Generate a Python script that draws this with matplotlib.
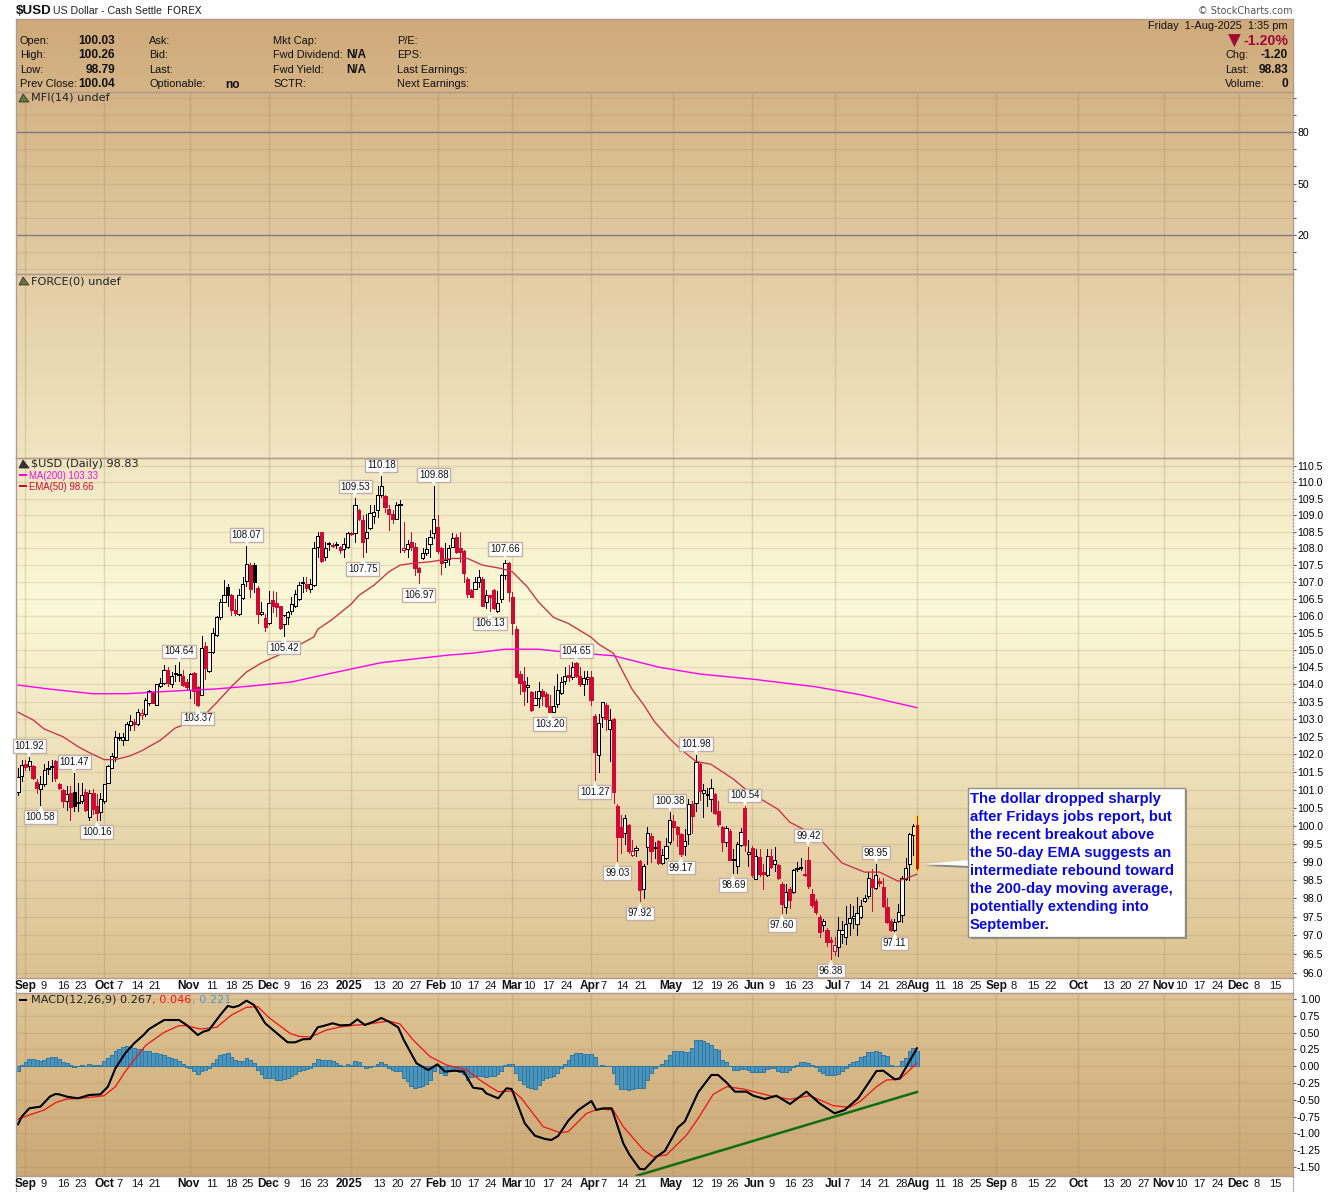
import numpy as np
import pandas as pd
import matplotlib
matplotlib.use('Agg')
import matplotlib.pyplot as plt
from matplotlib.patches import Rectangle, Polygon
from matplotlib.ticker import NullLocator

# Daily candles
opens = [100.95,101.4,101.72,101.68,101.68,101.23,101.02,101.15,101.58,101.63,
    101.8,101.17,101.0,100.7,100.92,100.95,100.62,100.7,100.95,100.25,
    100.92,100.55,100.37,100.7,101.2,101.6,101.92,102.45,102.42,102.42,
    102.83,102.92,102.85,103.12,103.15,103.45,103.78,103.42,103.95,104.05,
    104.42,104.0,104.3,104.28,104.25,104.07,103.85,104.32,103.92,103.7,
    105.1,104.4,104.95,105.45,105.95,106.42,106.85,106.62,106.17,106.05,
    106.52,107.02,107.5,107.5,106.83,106.06,105.92,105.8,106.45,106.38,
    106.28,105.75,105.95,106.15,106.28,106.5,106.96,106.93,106.8,106.9,
    108.05,108.48,107.75,108.13,108.1,108.1,108.05,107.97,108.03,108.45,
    108.45,109.15,108.85,108.3,108.6,108.97,109.17,109.6,109.58,109.2,
    109.05,108.9,109.3,107.95,107.97,108.2,108.03,107.4,107.7,107.87,
    108.13,108.45,108.65,108.0,107.6,107.68,108.05,108.33,108.0,107.93,
    107.1,106.75,106.8,107.0,107.1,106.4,106.6,106.75,106.13,106.5,
    107.2,107.55,106.55,105.6,104.3,104.1,103.93,103.78,103.42,103.6,
    103.8,103.72,103.37,103.22,103.43,103.75,104.1,104.28,104.22,104.62,
    104.23,104.0,104.15,104.22,103.1,101.97,103.07,103.4,102.72,103.0,
    100.55,99.97,99.8,100.03,99.2,99.33,99.02,98.27,99.42,99.72,
    99.37,99.57,98.97,99.1,99.55,100.13,99.97,99.78,99.43,99.78,
    100.6,100.63,101.72,100.92,100.85,100.75,100.87,100.4,99.97,99.55,
    99.85,99.05,98.9,99.47,100.5,99.22,99.38,98.53,99.13,98.72,
    98.65,99.17,98.95,98.92,98.4,97.78,98.25,98.17,98.8,98.83,
    98.68,99.05,98.13,97.92,97.5,97.28,97.15,96.87,96.57,96.7,
    97.05,96.95,97.33,97.48,97.3,97.5,97.92,98.07,98.52,98.28,
    98.48,98.3,97.78,97.38,97.15,97.4,97.55,98.53,98.93,99.75,100.03]
highs = [101.6,101.85,101.85,101.92,101.7,101.3,101.38,101.72,101.8,101.85,
    101.85,101.2,101.02,101.1,101.1,101.47,101.2,101.2,101.03,101.0,
    101.03,100.87,100.92,101.17,101.7,102.05,102.65,102.62,102.6,102.92,
    103.13,103.0,103.3,103.3,103.6,103.85,103.82,104.0,104.18,104.55,
    104.5,104.35,104.55,104.64,104.42,104.15,104.32,104.35,103.95,105.42,
    105.22,104.95,105.65,105.98,106.5,107.05,106.95,106.65,106.5,106.8,
    107.15,108.07,107.55,107.55,106.87,106.4,106.05,106.72,106.72,106.7,
    106.3,106.0,106.15,106.55,106.75,107.0,107.15,107.15,107.1,108.2,
    108.48,108.5,108.2,108.2,108.15,108.2,108.07,108.3,108.48,108.48,
    109.53,109.2,109.0,109.05,109.3,109.3,109.9,110.18,109.62,109.3,
    109.15,109.4,109.45,108.78,108.25,108.48,108.15,107.45,108.0,108.3,
    108.55,109.88,109.0,108.05,108.15,108.1,108.45,108.42,108.5,107.95,
    107.15,106.8,107.15,107.35,107.15,106.75,106.62,106.78,106.72,107.25,
    107.66,107.6,106.7,105.7,104.38,104.5,104.2,103.82,103.8,104.07,
    103.87,103.78,103.7,103.95,104.3,104.2,104.5,104.55,104.65,104.65,
    104.5,104.4,104.38,104.38,103.15,103.15,103.5,103.45,103.3,103.02,
    100.6,100.3,100.3,100.05,99.6,99.45,99.05,98.95,99.95,99.8,
    99.55,99.6,99.35,99.67,100.38,100.3,100.0,99.8,99.9,100.75,
    100.7,101.98,101.75,101.15,101.05,101.3,100.9,100.7,100.0,100.0,
    99.9,99.35,99.55,99.93,100.54,99.6,99.45,99.35,99.35,98.95,
    99.35,99.35,99.4,98.95,98.45,98.4,98.3,98.8,99.0,99.1,
    99.05,99.42,98.25,97.98,97.55,97.45,97.2,96.95,96.95,97.5,
    97.4,97.8,97.85,97.8,98.05,97.95,98.1,98.72,98.8,98.95,
    98.55,98.55,98.0,97.45,97.45,97.85,98.62,99.1,99.8,100.05,100.26]
lows = [100.85,101.25,101.55,101.55,101.3,100.92,100.58,101.1,101.45,101.25,
    101.25,101.03,100.52,100.45,100.17,100.4,100.4,100.62,100.42,100.17,
    100.33,100.16,100.16,100.62,101.18,101.6,101.8,102.42,102.27,102.4,
    102.7,102.7,102.83,103.0,103.1,103.42,103.45,103.42,103.92,104.0,
    103.95,103.92,104.1,104.1,103.95,103.85,103.6,103.45,103.37,103.7,
    104.15,104.35,104.9,105.42,105.9,106.4,106.3,106.03,106.03,106.03,
    106.5,106.87,106.55,106.7,105.8,106.03,105.55,105.75,106.1,106.0,
    105.6,105.42,105.75,106.05,106.25,106.45,106.7,106.72,106.7,106.88,
    107.75,107.6,107.65,107.95,108.05,108.0,107.85,107.75,108.0,108.4,
    108.18,108.85,107.75,107.9,108.58,108.75,108.95,109.55,109.1,108.55,
    108.75,108.88,107.9,107.9,107.75,107.95,107.2,106.97,107.68,107.8,
    107.75,108.3,107.85,107.25,107.45,107.5,108.03,107.85,107.6,107.0,
    106.55,106.55,106.8,106.85,106.28,106.22,106.13,106.2,106.1,106.42,
    107.1,106.43,105.47,104.2,103.72,103.42,103.5,103.24,103.4,103.35,
    103.42,103.35,103.2,103.22,103.35,103.72,104.0,104.1,104.15,104.2,
    103.95,103.7,104.0,103.4,101.27,101.5,102.78,102.7,101.8,100.63,
    99.03,99.25,99.5,99.25,99.17,99.15,97.92,98.0,98.95,99.0,
    99.1,98.93,98.93,99.08,99.5,99.6,99.45,99.17,99.2,99.5,
    99.8,100.4,100.72,100.25,100.55,100.4,100.33,100.0,99.3,99.45,
    99.05,98.69,98.7,99.45,99.3,98.88,98.58,98.53,98.6,98.25,
    98.6,98.83,98.75,98.52,97.6,97.6,97.75,98.15,98.75,98.78,
    98.6,98.28,97.78,97.58,96.95,97.12,96.72,96.38,96.48,96.45,
    96.8,96.78,97.0,97.2,97.0,97.48,97.9,98.0,97.65,98.25,
    98.35,97.78,97.33,97.12,97.11,97.35,97.35,98.5,98.5,99.2,98.79]
closes = [101.35,101.7,101.63,101.8,101.32,101.05,101.15,101.55,101.62,101.67,
    101.32,101.05,100.7,100.87,100.52,100.55,100.66,100.85,100.43,100.9,
    100.47,100.35,100.75,101.17,101.68,101.95,102.5,102.48,102.5,102.85,
    102.95,102.85,103.22,103.18,103.55,103.8,103.47,104.0,104.05,104.42,
    104.03,104.25,104.33,104.31,103.97,103.93,104.3,103.82,103.42,105.05,
    104.47,104.95,105.5,105.95,106.42,106.62,106.62,106.17,106.08,106.62,
    106.93,107.52,106.8,107.0,106.05,106.1,105.67,106.37,106.28,106.27,
    105.65,106.03,106.1,106.35,106.65,106.9,107.0,106.83,106.93,108.0,
    108.38,107.62,108.0,108.16,108.07,108.14,107.95,108.13,108.45,108.43,
    109.32,108.88,108.18,108.48,109.08,109.1,109.6,109.9,109.25,109.05,
    108.88,109.3,109.35,108.0,108.13,108.03,107.4,107.3,107.87,107.97,
    108.33,108.9,107.93,107.55,107.65,108.02,108.3,107.9,107.9,107.27,
    106.65,106.55,107.0,107.15,106.3,106.6,106.55,106.22,106.37,107.2,
    107.57,106.7,105.78,104.2,104.05,103.8,103.98,103.25,103.62,103.8,
    103.67,103.37,103.2,103.38,103.85,104.07,104.23,104.2,104.5,104.25,
    104.0,104.18,104.22,103.55,102.08,102.9,103.48,103.0,102.98,100.93,
    99.7,99.68,100.2,99.3,99.3,99.37,98.22,98.9,99.8,99.3,
    99.42,98.98,99.2,99.45,100.15,99.97,99.78,99.22,99.57,100.6,
    100.27,101.78,100.97,101.0,100.88,101.05,100.35,100.05,99.55,99.93,
    99.05,99.09,99.5,99.83,99.47,99.27,98.63,99.17,98.68,98.68,
    99.17,98.87,99.05,98.55,97.85,98.17,97.95,98.77,98.84,98.86,
    98.63,98.33,97.82,97.62,97.08,97.38,96.83,96.83,96.73,97.15,
    97.15,97.3,97.48,97.52,97.6,97.8,98.0,98.55,98.3,98.65,
    98.42,97.8,97.35,97.15,97.35,97.62,98.55,98.83,99.78,100.0,98.83]
black_filled = [15, 56, 63]  # closed under the open but above yesterday
red_hollow = [33, 103, 164, 218]  # closed over the open but below yesterday

# Moving averages, read at the bends of each line
ema_bars = [0,4,7,12,16,19,23,26,30,33,38,42,49,53,57,61,65,71,75,79,80,84,89,91,95,99,102,105,110,114,
    116,120,124,129,132,136,139,143,147,153,155,159,161,164,167,170,174,177,181,185,191,195,203,206,211,215,220,226,230,235,240]
ema_vals = [103.2,102.98,102.72,102.5,102.22,102.05,101.85,101.85,101.96,102.1,102.4,102.75,103.03,103.47,103.94,104.36,104.62,104.92,105.14,105.38,105.6,105.9,106.35,106.6,106.9,107.3,107.5,107.55,107.6,107.67,
    107.7,107.7,107.5,107.4,107.3,106.85,106.4,105.95,105.77,105.37,105.17,104.9,104.47,103.85,103.42,102.92,102.44,102.14,101.8,101.72,101.3,100.95,100.45,100.1,99.83,99.53,98.97,98.72,98.72,98.47,98.66]
ma_bars = [0,8,20,29,40,53,62,73,84,97,115,121,130,139,145,159,171,182,197,213,225,240]
ma_vals = [103.98,103.87,103.73,103.73,103.8,103.87,103.95,104.07,104.33,104.63,104.85,104.9,105.02,105.02,104.95,104.83,104.5,104.3,104.14,103.93,103.7,103.33]

# Swing labels: text, bar, price and whether it sits over the bar
swing_texts = ['101.92','101.47','100.58','100.16','103.37','104.64','108.07','105.42','109.53','107.75',
    '110.18','109.88','106.97','107.66','106.13','104.65','103.20','101.27','99.03','100.38',
    '99.17','97.92','101.98','100.54','98.69','99.42','97.60','96.38','98.95','97.11']
swing_bars = [3,15,6,21,48,43,61,71,90,92,97,111,107,130,126,149,142,154,160,174,177,166,181,194,191,211,204,217,229,234]
swing_up = [1,1,0,0,0,1,1,0,1,0,1,1,0,1,0,1,0,0,0,1,0,0,1,1,0,1,0,0,1,0]

# MACD panel
macd_bars = [0,1,3,6,8.5,10,11,13,16,19,22,24,26,28.6,31,33.5,35,39,43,45,46,48,49.5,51,54,56,57.5,59,61,63,66,68.6,72,74,76,78,80,81.5,84,86,88.6,90.6,92.6,95,97,99,101.5,103,106.4,109.5,112,114,116.6,119,121.5,124,125,128.2,130.4,131.8,135.3,138,140.7,142.4,144.2,146.9,149.6,153.1,154.4,156.2,158.5,161.6,163.3,166,167.3,170.5,172.7,176.2,178,181.6,185.1,186.9,189.1,191.4,194.5,196.3,199.4,202.5,206.1,210.5,214,218,220.7,224.3,229.2,231,234.1,235.4,240]
macd_vals = [-0.865,-0.751,-0.627,-0.602,-0.453,-0.414,-0.419,-0.453,-0.478,-0.429,-0.419,-0.305,-0.032,0.191,0.340,0.464,0.553,0.687,0.687,0.613,0.563,0.464,0.514,0.539,0.762,0.896,0.876,0.901,0.975,0.911,0.638,0.514,0.355,0.355,0.400,0.405,0.578,0.598,0.638,0.608,0.613,0.697,0.613,0.663,0.717,0.663,0.578,0.390,0.043,-0.057,0.028,-0.081,-0.067,-0.081,-0.320,-0.339,-0.404,-0.478,-0.329,-0.339,-0.850,-1.034,-1.083,-1.098,-1.039,-0.811,-0.652,-0.518,-0.652,-0.627,-0.627,-1.148,-1.322,-1.530,-1.535,-1.346,-1.262,-0.910,-0.826,-0.389,-0.131,-0.131,-0.240,-0.379,-0.379,-0.439,-0.488,-0.439,-0.563,-0.379,-0.553,-0.701,-0.652,-0.478,-0.072,-0.067,-0.196,-0.181,0.267]
signal_bars = [0,3,7,10,13,16.5,21,23,26,28.6,31,34,39,43,45,48.6,53,57,61,64,67,72.6,75,78,82.4,86,89.5,93,99,102,105.5,110,114.4,119.8,123.3,126,128.2,132.2,134.4,140.2,144.7,146.9,151.8,154.9,158.9,161.6,167,169.6,173.1,178.5,181.6,185.6,189.2,193.6,200.7,206,211.4,217.6,222,224.8,229.2,231.9,235.4,240]
signal_vals = [-0.791,-0.726,-0.652,-0.543,-0.488,-0.478,-0.453,-0.439,-0.305,-0.081,0.092,0.305,0.504,0.603,0.603,0.553,0.578,0.762,0.876,0.886,0.722,0.489,0.444,0.434,0.539,0.583,0.608,0.623,0.672,0.628,0.390,0.142,0.018,-0.057,-0.205,-0.305,-0.379,-0.369,-0.478,-0.900,-0.989,-0.974,-0.702,-0.637,-0.652,-0.900,-1.247,-1.346,-1.322,-1.024,-0.776,-0.419,-0.305,-0.339,-0.439,-0.493,-0.439,-0.587,-0.612,-0.528,-0.305,-0.205,-0.196,0.046]
hist_vals = [-.07,.02,.06,.10,.10,.09,.08,.09,.12,.13,.13,.11,.06,.04,.02,-.01,.01,.02,.01,.03,
    .02,.02,.02,.07,.12,.17,.23,.26,.28,.30,.29,.27,.25,.25,.23,.22,.19,.19,.18,.17,
    .14,.12,.10,.08,.03,-.01,-.02,-.07,-.11,-.07,-.06,-.02,.04,.10,.16,.18,.19,.14,.09,.08,
    .08,.12,.09,.04,-.06,-.12,-.17,-.17,-.17,-.20,-.20,-.19,-.17,-.14,-.11,-.07,-.06,-.04,-.02,.05,
    .10,.09,.09,.09,.07,.04,.02,.01,.03,.02,.07,.06,0,-.02,-.01,0,.03,.06,.03,-.02,
    -.05,-.07,-.07,-.17,-.22,-.30,-.33,-.31,-.30,-.27,-.21,-.07,0,-.10,-.13,-.06,-.05,-.06,-.08,-.11,
    -.20,-.16,-.15,-.15,-.15,-.16,-.15,-.15,-.11,-.07,.02,.03,.03,-.10,-.21,-.27,-.31,-.33,-.34,-.28,
    -.21,-.17,-.16,-.15,-.10,-.03,.03,.09,.16,.19,.19,.18,.18,.18,.13,0,.02,.01,.01,-.10,
    -.27,-.34,-.34,-.35,-.34,-.33,-.33,-.32,-.21,-.10,-.03,0,.03,.09,.17,.22,.23,.22,.21,.21,
    .27,.39,.39,.37,.35,.32,.26,.24,.09,.06,0,-.06,-.06,-.04,-.04,-.05,-.08,-.08,-.08,-.08,
    -.04,-.03,-.03,-.07,-.08,-.08,-.06,-.01,.02,.06,.06,.04,.02,-.01,-.07,-.10,-.13,-.13,-.13,-.11,
    -.07,-.02,.03,.06,.08,.13,.15,.21,.21,.23,.21,.16,.15,.02,0,0,.07,.12,.22,.27,.22]
trend_bars = [165.2, 240]  # green support line under the MACD lows
trend_vals = [-1.63, -0.384]

# Date strip
strip_bars = [2.1,6.9,12,16.8,23.2,27,31.8,36.6,45.6,51.8,56.9,61.4,66.7,71.8,76.6,81.4,88.4,96.6,101.4,106.2,
    111.6,116.7,121.5,126.3,131.9,136.4,141.5,146.6,152.7,156.4,161.2,166.3,174.3,181.3,186.3,190.9,196.5,201.3,206.1,210.9,
    217.6,221.3,226.1,231.2,236,240.3,246.1,250.9,255.7,261.3,265.9,271,275.8,283,291,295.8,300.6,305.9,310.7,315.5,320.3,325.7,330.8,335.6]
strip_labels = ['Sep','9','16','23','Oct','7','14','21','Nov','11','18','25','Dec','9','16','23','2025','13','20','27',
    'Feb','10','17','24','Mar','10','17','24','Apr','7','14','21','May','12','19','26','Jun','9','16','23',
    'Jul','7','14','21','28','Aug','11','18','25','Sep','8','15','22','Oct','13','20','27','Nov','10','17','24','Dec','8','15']
month_bars = [2,23,46,67,89,112,132,153,175,196,218,240,261,283,306,326]
price_ticks = [96.0,96.5,97.0,97.5,98.0,98.5,99.0,99.5,100.0,100.5,101.0,101.5,102.0,102.5,103.0,103.5,104.0,104.5,105.0,105.5,106.0,106.5,107.0,107.5,108.0,108.5,109.0,109.5,110.0,110.5]
macd_ticks = [-1.5,-1.25,-1.0,-0.75,-0.5,-0.25,0.0,0.25,0.5,0.75,1.0]

note_lines = ['The dollar dropped sharply', 'after Fridays jobs report, but', 'the recent breakout above',
    'the 50-day EMA suggests an', 'intermediate rebound toward', 'the 200-day moving average,',
    'potentially extending into', 'September.']

WIDTH, HEIGHT = 1340, 1192
BORDER = '#B39B90'
GRID = '#9A7B55'
CRIMSON = '#D00A32'
plt.rcParams['font.family'] = ['Liberation Sans', 'DejaVu Sans']

# Function to make an axes from the pixel rows of the picture
def panel(top, bottom, left=16, right=1293):
    return plt.axes([left / WIDTH, 1 - bottom / HEIGHT, (right - left) / WIDTH, (bottom - top) / HEIGHT], facecolor='none')

# Function to write text at a pixel of the picture
def px_text(x, y, text, **kwargs):
    plt.figtext(x / WIDTH, 1 - y / HEIGHT, text, va='center', **kwargs)

# Function to put the month grid and the shared limits on the current axes
def month_grid():
    plt.xlim(-0.534, 340.4)
    plt.xticks(month_bars, [''] * len(month_bars))
    plt.tick_params(axis='x', length=0)
    plt.grid(True, axis='x', color=GRID, alpha=0.24, linewidth=1)
    plt.gca().set_axisbelow(True)
    for spine in plt.gca().spines.values():
        spine.set_color(BORDER)
        spine.set_linewidth(1)

# Function to draw one white strip of dates
def date_strip(top, bottom):
    panel(top, bottom)
    plt.xlim(-0.534, 340.4)
    plt.ylim(0, 1)
    plt.xticks([])
    plt.yticks([])
    for spine in plt.gca().spines.values():
        spine.set_color(BORDER)
        spine.set_linestyle((0, (1, 1.5)))
    for bar, label in zip(strip_bars, strip_labels):
        bold = not label.isdigit() or label == '2025'
        plt.text(bar, 0.47, label, ha='center', va='center', fontsize=8.6 if bold else 8,
                 fontweight='bold' if bold else 'normal', color='#111111')

# Function to plot the whole dollar chart
def plot_usd_chart():
    df = pd.DataFrame({'open': opens, 'high': highs, 'low': lows, 'close': closes})
    df['bar'] = df.index
    df['top'] = df[['open', 'close']].max(axis=1)
    df['bottom'] = df[['open', 'close']].min(axis=1)
    # Colour comes from the close against the open, the exceptions are listed above
    df['red'] = df['close'] < df['open']
    df['hollow'] = df['close'] >= df['open']
    df.loc[black_filled, 'red'] = False
    df.loc[red_hollow, 'red'] = True

    plt.figure(figsize=(WIDTH / 100, HEIGHT / 100), dpi=100, facecolor='white')

    # Gradient behind the four upper panels
    panel(19, 978)
    rows = np.arange(19, 978)
    shade = np.stack([np.interp(rows, [19, 600, 978], [a, b, c]) for a, b, c in
                      [(207, 251, 220), (170, 249, 193), (122, 216, 145)]], axis=1) / 255
    plt.imshow(shade[:, None, :], aspect='auto')
    plt.axis('off')

    # Gradient behind the MACD panel
    panel(993, 1176)
    rows = np.arange(993, 1176)
    shade = np.stack([np.interp(rows, [993, 1176], [a, b]) for a, b in
                      [(222, 203), (196, 168), (148, 118)]], axis=1) / 255
    plt.imshow(shade[:, None, :], aspect='auto')
    plt.axis('off')

    # Quote header
    panel(19, 92)
    month_grid()
    plt.grid(False)
    plt.xticks([])
    plt.yticks([])

    # MFI panel, empty apart from its scale
    panel(92, 274)
    month_grid()
    plt.ylim(-2.7, 103.3)
    plt.yticks(np.arange(0, 101, 10), ['', '', '20', '', '', '50', '', '', '80', '', ''], fontsize=7.6)
    plt.tick_params(axis='y', left=False, labelleft=False, right=True, labelright=True, length=2.2, pad=1, color='#555555')
    plt.grid(True, axis='y', color=GRID, alpha=0.17, linewidth=1)
    plt.axhline(80, color='#7D7D85', linewidth=1)
    plt.axhline(20, color='#7D7D85', linewidth=1)

    # Force panel, also empty
    panel(274, 458)
    month_grid()
    plt.yticks([])

    # Price panel
    panel(458, 978)
    plt.yscale('log')
    for flag_red, flag_hollow in [(False, True), (False, False), (True, False), (True, True)]:
        part = df[(df['red'] == flag_red) & (df['hollow'] == flag_hollow)]
        colour = CRIMSON if flag_red else 'black'
        plt.vlines(part['bar'], part['top'], part['high'], colors=colour, linewidth=0.7, antialiased=False)
        plt.vlines(part['bar'], part['low'], part['bottom'], colors=colour, linewidth=0.7, antialiased=False)
        plt.bar(part['bar'], part['top'] - part['bottom'], bottom=part['bottom'], width=0.86,
                facecolor='#FBF8E0' if flag_hollow else colour, edgecolor=colour, linewidth=0.5, antialiased=False)
    plt.bar(df['bar'].iloc[-1], df['high'].iloc[-1] - df['low'].iloc[-1], bottom=df['low'].iloc[-1], width=1.1,
            facecolor='none', edgecolor='#F4E61E', linewidth=0.45, antialiased=False)  # today's bar is marked
    plt.plot(ema_bars, ema_vals, color='#CC3048', linewidth=0.95)
    plt.plot(ma_bars, ma_vals, color='#FF00F0', linewidth=1.0)
    for text, bar, up in zip(swing_texts, swing_bars, swing_up):
        price = highs[bar] if up else lows[bar]
        shift = 11 if up else -12
        plt.annotate(text, (bar, price), xytext=(0, shift), textcoords='offset pixels', ha='center', va='center',
                     fontsize=7, color='#111111', zorder=6,
                     bbox=dict(boxstyle='square,pad=0.18', facecolor='white', edgecolor='#C4AFA5', linewidth=1))
        plt.annotate('\u25bc' if up else '\u25b2', (bar, price), xytext=(0, 4 if up else -4), textcoords='offset pixels',
                     ha='center', va='center', fontsize=5.5, color='white', family='DejaVu Sans', zorder=7)
    month_grid()
    plt.ylim(95.86, 110.745)
    plt.gca().yaxis.set_minor_locator(NullLocator())
    plt.yticks(price_ticks, ['%.1f' % tick for tick in price_ticks], fontsize=7.6, ha='right')
    plt.gca().yaxis.set_minor_locator(NullLocator())
    plt.tick_params(axis='y', left=False, labelleft=False, right=True, labelright=True, length=2.2, pad=19.4, color='#555555')
    plt.grid(True, axis='y', color=GRID, alpha=0.17, linewidth=1)
    plt.gca().spines['right'].set_linestyle((0, (1, 1.5)))

    date_strip(978, 993)

    # MACD panel
    panel(993, 1176)
    plt.bar(df['bar'], hist_vals, width=1.0, facecolor='#4D94BC', edgecolor='#2F7BA5', linewidth=0.7, antialiased=False)
    plt.plot(trend_bars, trend_vals, color='#0E6E10', linewidth=1.8)
    plt.plot(signal_bars, signal_vals, color='#F01818', linewidth=0.95)
    plt.plot(macd_bars, macd_vals, color='black', linewidth=1.5)
    month_grid()
    plt.ylim(-1.634, 1.089)
    plt.yticks(macd_ticks, ['%.2f' % tick for tick in macd_ticks], fontsize=7.6, ha='right')
    plt.tick_params(axis='y', left=False, labelleft=False, right=True, labelright=True, length=2.2, pad=17.3, color='#555555')
    plt.grid(True, axis='y', color=GRID, alpha=0.17, linewidth=1)

    date_strip(1176, 1192)

    # Title line
    px_text(16, 11, '$USD', fontsize=9.6, fontweight='bold', color='#111111')
    px_text(53, 11, 'US Dollar - Cash Settle', fontsize=7.6, color='#222222')
    px_text(167, 11, 'FOREX', fontsize=7.4, family='DejaVu Sans', color='#222222')
    px_text(1293, 11, '\u00a9 StockCharts.com', fontsize=6.9, ha='right', family='DejaVu Sans', color='#555555')

    # Quote block on the left
    for y, name, value in zip([41, 55, 70, 84], ['Open:', 'High:', 'Low:', 'Prev Close:'], ['100.03', '100.26', '98.79', '100.04']):
        px_text(20, y, name, fontsize=7.9, color='#111111')
        px_text(115, y, value, fontsize=8.6, fontweight='bold', ha='right', color='#111111')
    for y, name in zip([41, 55, 70, 84], ['Ask:', 'Bid:', 'Last:', 'Optionable:']):
        px_text(149, y, name, fontsize=7.9, color='#111111')
    px_text(240, 85, 'no', fontsize=8.6, fontweight='bold', ha='right', color='#111111')
    for y, name in zip([41, 55, 70, 84], ['Mkt Cap:', 'Fwd Dividend:', 'Fwd Yield:', 'SCTR:']):
        px_text(273, y, name, fontsize=7.9, color='#111111')
    px_text(346, 55, 'N/A', fontsize=8.4, fontweight='bold', color='#111111')
    px_text(346, 70, 'N/A', fontsize=8.4, fontweight='bold', color='#111111')
    for y, name in zip([41, 55, 70, 84], ['P/E:', 'EPS:', 'Last Earnings:', 'Next Earnings:']):
        px_text(397, y, name, fontsize=7.9, color='#111111')

    # Quote block on the right
    px_text(1288, 26, 'Friday  1-Aug-2025  1:35 pm', fontsize=7.9, ha='right', color='#111111')
    px_text(1234, 41, '\u25bc', fontsize=12, ha='center', family='DejaVu Sans', color='#9E0B36')
    px_text(1288, 41, '-1.20%', fontsize=10.2, fontweight='bold', ha='right', color='#9E0B36')
    for y, name, value in zip([55, 70, 84], ['Chg:', 'Last:', 'Volume:'], ['-1.20', '98.83', '0']):
        px_text(1225, y, name, fontsize=7.9, color='#111111')
        px_text(1288, y, value, fontsize=8.6, fontweight='bold', ha='right', color='#111111')

    # Panel legends
    px_text(31, 98, 'MFI(14) undef', fontsize=8.1, family='DejaVu Sans', color='#222222')
    px_text(31, 281, 'FORCE(0) undef', fontsize=8.1, family='DejaVu Sans', color='#222222')
    px_text(31, 464, '$USD (Daily) 98.83', fontsize=8.1, family='DejaVu Sans', color='#222222')
    px_text(29, 476, 'MA(200) 103.33', fontsize=6.9, color='#F010E0')
    px_text(29, 487, 'EMA(50) 98.66', fontsize=6.9, color=CRIMSON)
    px_text(31, 1000, 'MACD(12,26,9) 0.267', fontsize=8.1, family='DejaVu Sans', color='#222222')
    px_text(152, 1000, ', 0.046', fontsize=8.1, family='DejaVu Sans', color='#F01818')
    px_text(192, 1000, ', 0.221', fontsize=8.1, family='DejaVu Sans', color='#4A9BD0')

    # Small icons and dashes in front of the legends
    fig = plt.gcf()
    for x0, x1, y, colour in [(19, 27, 475, '#FF00F0'), (19, 27, 486, CRIMSON), (19, 27, 1000, 'black')]:
        fig.add_artist(Rectangle((x0 / WIDTH, 1 - (y + 1) / HEIGHT), (x1 - x0) / WIDTH, 2 / HEIGHT, transform=fig.transFigure, facecolor=colour, edgecolor='none'))
    for y, colour in [(98, '#5F7A45'), (281, '#5F7A45'), (464, '#333333')]:
        corners = [(19, y + 4), (23, y - 4), (26, y), (29, y + 4)]
        fig.add_artist(Polygon([(x / WIDTH, 1 - v / HEIGHT) for x, v in corners], transform=fig.transFigure, facecolor=colour, edgecolor='#222222', linewidth=0.5))

    # Callout with its pointer
    fig.add_artist(Rectangle((971 / WIDTH, 1 - 939 / HEIGHT), 216 / WIDTH, 149 / HEIGHT, transform=fig.transFigure, facecolor='#8A8A80', edgecolor='none'))
    pointer = [(925, 864), (969, 860), (969, 866)]
    fig.add_artist(Polygon([(x / WIDTH, 1 - (v + 2) / HEIGHT) for x, v in pointer], transform=fig.transFigure, facecolor='#8A8A80', edgecolor='none'))
    fig.add_artist(Polygon([(x / WIDTH, 1 - v / HEIGHT) for x, v in pointer], transform=fig.transFigure, facecolor='white', edgecolor='none'))
    fig.add_artist(Rectangle((968 / WIDTH, 1 - 937 / HEIGHT), 217 / WIDTH, 149 / HEIGHT, transform=fig.transFigure, facecolor='white', edgecolor='#8F8F88', linewidth=1))
    for row, line in enumerate(note_lines):
        px_text(970, 799 + 18 * row, line, fontsize=10.7, fontweight='bold', color='#0A0AE6')

    plt.savefig('out.png', dpi=100)

# Example usage
plot_usd_chart()
